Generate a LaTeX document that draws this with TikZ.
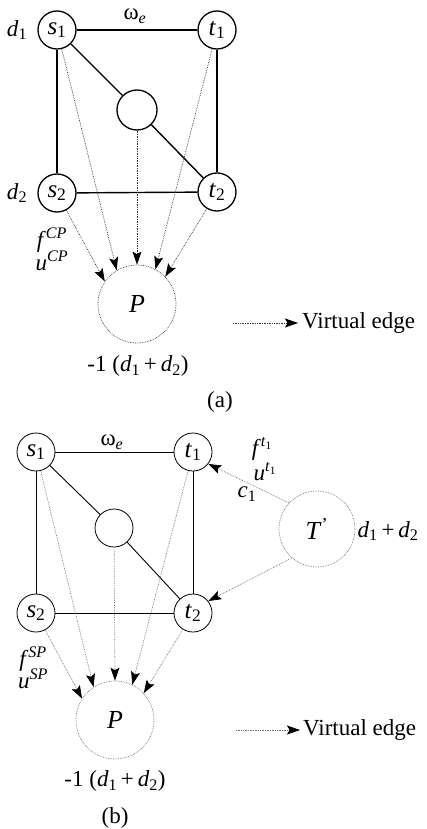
\documentclass[tikz,border=0pt]{standalone}
\usepackage{fontspec}
\setmainfont{Liberation Serif}
\usetikzlibrary{arrows.meta}
\newcommand{\vsub}[2]{\textit{#1}\textsubscript{#2}}
\begin{document}
\begin{tikzpicture}[x=1pt,y=-1pt,
  every node/.style={font=\fontsize{23}{25}\selectfont, inner sep=0pt},
  vtxa/.style={circle,draw,line width=1.3pt,minimum size=38pt,font=\fontsize{25}{27}\selectfont},
  vtxb/.style={circle,draw,line width=0.8pt,minimum size=38pt,font=\fontsize{25}{27}\selectfont},
  bigc/.style={circle,draw,densely dotted,line width=0.7pt,minimum size=78pt,font=\fontsize{26}{28}\selectfont},
  edgea/.style={line width=1.4pt},
  edgeb/.style={line width=0.9pt},
  tipv/.tip={Stealth[length=13pt,width=9pt,inset=2.5pt,color=black]},
  virta/.style={densely dotted,line width=0.7pt,black!80,-tipv},
  virtb/.style={densely dotted,line width=0.7pt,black!55,-tipv}
]
\useasboundingbox (0,0) rectangle (426,829);
% ---------- (a) ----------
\node[vtxa] (as1) at (57,30) {\vsub{s}{1}};
\node[vtxa] (at1) at (217,30) {\vsub{t}{1}};
\node[vtxa] (as2) at (57,193) {\vsub{s}{2}};
\node[vtxa] (at2) at (217,192) {\vsub{t}{2}};
\node[vtxa,minimum size=40pt] (am) at (137,110) {};
\node[bigc,draw=black!80] (aP) at (137,304) {\textit{P}};
\draw[edgea] (as1) -- (at1);
\draw[edgea] (as1) -- (as2);
\draw[edgea] (at1) -- (at2);
\draw[edgea] (as2) -- (at2);
\draw[edgea] (as1) -- (am);
\draw[edgea] (am) -- (at2);
\draw[virta] (as2) -- (aP.145);
\draw[virta] (as1) -- (aP.121);
\draw[virta] (am) -- (aP.90);
\draw[virta] (at1) -- (aP.62);
\draw[virta] (at2) -- (aP.44);
\node (ad1) at (17,30) {\vsub{d}{1}};
\node (ad2) at (17,193) {\vsub{d}{2}};
\node (aw) at (135,16) {ω\textsubscript{\textit{e}}};
\node (af) at (52,240) {\textit{f}\textsuperscript{\textit{CP}}};
\node (au) at (52,261) {\textit{u}\textsuperscript{\textit{CP}}};
\node (adem) at (138,366) {-1 (\vsub{d}{1}\,+\,\vsub{d}{2})};
\node (alab) at (220,402) {(a)};
\coordinate (avs) at (233,323);
\coordinate (ave) at (298,323);
\draw[virta] (avs) -- (ave);
\node[anchor=west] (avt) at (302,323) {Virtual edge};
% ---------- (b) ----------
\node[vtxb] (bs1) at (36,452) {\vsub{s}{1}};
\node[vtxb] (bt1) at (193,452) {\vsub{t}{1}};
\node[vtxb] (bs2) at (36,613) {\vsub{s}{2}};
\node[vtxb] (bt2) at (193,613) {\vsub{t}{2}};
\node[vtxb] (bm) at (114,528) {};
\node[bigc,draw=black!55] (bP) at (115,720) {\textit{P}};
\node[bigc,draw=black!55,minimum size=76pt] (bT) at (317,529) {\textit{T}\textsuperscript{'}};
\draw[edgeb] (bs1) -- (bt1);
\draw[edgeb] (bs1) -- (bs2);
\draw[edgeb] (bt1) -- (bt2);
\draw[edgeb] (bs2) -- (bt2);
\draw[edgeb] (bs1) -- (bm);
\draw[edgeb] (bm) -- (bt2);
\draw[virtb] (bs2) -- (bP.147);
\draw[virtb] (bs1) -- (bP.123);
\draw[virtb] (bm) -- (bP.90);
\draw[virtb] (bt1) -- (bP.64);
\draw[virtb] (bt2) -- (bP.43);
\draw[virtb] (bT.137) -- (bt1.-38);
\draw[virtb] (bT.229) -- (bt2.38);
\node (bw) at (112,442) {ω\textsubscript{\textit{e}}};
\node (bf) at (262,449) {\textit{f}\textsuperscript{\textit{t}\textsubscript{1}}};
\node (bu) at (265,472) {\textit{u}\textsuperscript{\textit{t}\textsubscript{1}}};
\node (bc) at (247,494) {\vsub{c}{1}};
\node (bdd) at (388,531) {\vsub{d}{1}\,+\,\vsub{d}{2}};
\node (bsf) at (33,659) {\textit{f}\textsuperscript{\textit{SP}}};
\node (bsu) at (33,679) {\textit{u}\textsuperscript{\textit{SP}}};
\node (bdem) at (115,781) {-1 (\vsub{d}{1}\,+\,\vsub{d}{2})};
\node (blab) at (115,818) {(b)};
\coordinate (bvs) at (236,730);
\coordinate (bve) at (300,730);
\draw[virtb] (bvs) -- (bve);
\node[anchor=west] (bvt) at (303,730) {Virtual edge};
\end{tikzpicture}
\end{document}
